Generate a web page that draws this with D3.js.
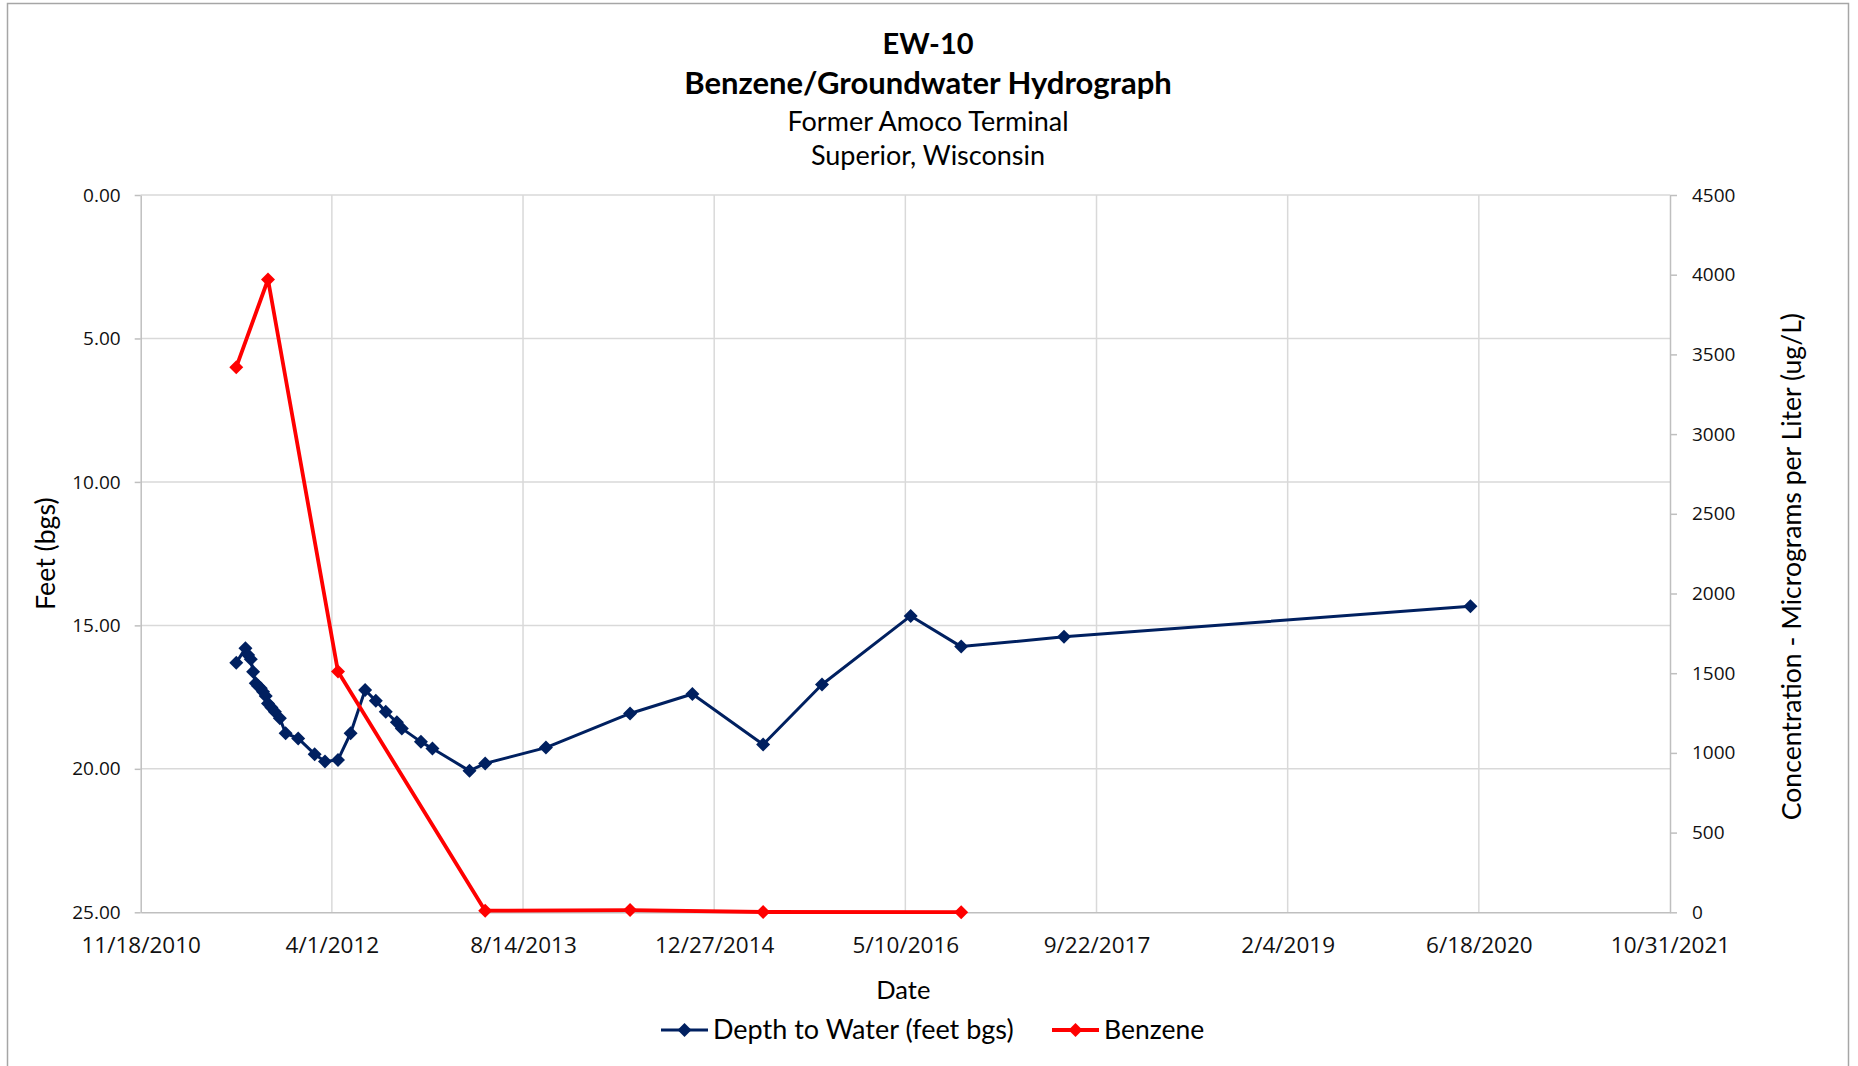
<!DOCTYPE html>
<html>
<head>
<meta charset="utf-8">
<script src="https://cdn.jsdelivr.net/npm/d3@7"></script>
<style>
  body { margin: 0; background: #fff; }
  svg { display: block; }
  .tick text { font-family: "Open Sans", sans-serif; fill: #111; }
</style>
</head>
<body>
<svg id="chart" width="1858" height="1066"></svg>
<script>
// Depth to water (feet below ground surface), EW-10
const depthDates = [
  "2011-07-26", "2011-08-19", "2011-08-26", "2011-09-02", "2011-09-08",
  "2011-09-15", "2011-09-21", "2011-09-28", "2011-10-04", "2011-10-11",
  "2011-10-17", "2011-10-26", "2011-11-04", "2011-11-17", "2011-12-02",
  "2012-01-04", "2012-02-16", "2012-03-14", "2012-04-17", "2012-05-20",
  "2012-06-27", "2012-07-25", "2012-08-20", "2012-09-18", "2012-10-01",
  "2012-11-20", "2012-12-20", "2013-03-27", "2013-05-07", "2013-10-13",
  "2014-05-21", "2014-10-31", "2015-05-04", "2015-10-05", "2016-05-24",
  "2016-10-03", "2017-06-29", "2020-05-27"
];
const depthFeet = [
  16.30, 15.80, 16.03, 16.18, 16.62,
  17.02, 17.11, 17.19, 17.31, 17.46,
  17.72, 17.86, 18.01, 18.24, 18.76,
  18.94, 19.49, 19.74, 19.69, 18.76,
  17.25, 17.63, 18.01, 18.38, 18.59,
  19.06, 19.29, 20.07, 19.81, 19.26,
  18.07, 17.39, 19.15, 17.06, 14.67,
  15.74, 15.40, 14.33
];

// Benzene concentration (ug/L)
const benzeneDates = [
  "2011-07-26", "2011-10-17", "2012-04-17", "2013-05-07",
  "2014-05-21", "2015-05-04", "2016-10-03"
];
const benzeneUgL = [3420, 3970, 1510, 10, 14, 2, 1];

// Axis ticks
const dateTicks = [
  "2010-11-18", "2012-04-01", "2013-08-14", "2014-12-27", "2016-05-10",
  "2017-09-22", "2019-02-04", "2020-06-18", "2021-10-31"
];
const feetTicks = [0, 5, 10, 15, 20, 25];
const concTicks = [0, 500, 1000, 1500, 2000, 2500, 3000, 3500, 4000, 4500];

const titleLines = ["EW-10", "Benzene/Groundwater Hydrograph", "Former Amoco Terminal", "Superior, Wisconsin"];

const parse = d3.utcParse("%Y-%m-%d");
const fmtDate = d3.utcFormat("%-m/%-d/%Y");

const depth = depthDates.map((d, i) => ({ date: parse(d), value: depthFeet[i] }));
const benzene = benzeneDates.map((d, i) => ({ date: parse(d), value: benzeneUgL[i] }));
const xTickDates = dateTicks.map(parse);

const plot = { left: 140.7, right: 1670, top: 195, bottom: 912.3 };

const x = d3.scaleUtc()
  .domain([xTickDates[0], xTickDates[xTickDates.length - 1]])
  .range([plot.left, plot.right]);
const yFeet = d3.scaleLinear().domain([0, 25]).range([plot.top, plot.bottom]);
const yConc = d3.scaleLinear().domain([0, 4500]).range([plot.bottom, plot.top]);

const svg = d3.select("#chart");
const calibriLike = "Lato, 'Open Sans', sans-serif";
const gridColor = "#d9d9d9";
const axisColor = "#bfbfbf";

// Outer chart border
svg.append("rect")
  .attr("x", 7.5).attr("y", 3.5)
  .attr("width", 1841).attr("height", 1100)
  .attr("fill", "none").attr("stroke", "#a6a6a6").attr("stroke-width", 1.5);

// Titles
const titleY = [54, 94, 131, 165];
const titleSize = [29, 31, 27, 27];
svg.append("g").selectAll("text").data(titleLines).join("text")
  .attr("x", 928).attr("y", (d, i) => titleY[i])
  .attr("text-anchor", "middle")
  .attr("font-family", calibriLike)
  .attr("font-size", (d, i) => titleSize[i])
  .attr("font-weight", (d, i) => i < 2 ? 700 : 400)
  .attr("fill", "#000")
  .text(d => d);

// Gridlines
const grid = svg.append("g");
grid.selectAll("line.h").data(feetTicks.slice(0, -1)).join("line")
  .attr("class", "h")
  .attr("x1", plot.left).attr("x2", plot.right)
  .attr("y1", d => yFeet(d)).attr("y2", d => yFeet(d))
  .attr("stroke", gridColor).attr("stroke-width", 1.5);
grid.selectAll("line.v").data(xTickDates.slice(1, -1)).join("line")
  .attr("class", "v")
  .attr("x1", d => x(d)).attr("x2", d => x(d))
  .attr("y1", plot.top).attr("y2", plot.bottom)
  .attr("stroke", gridColor).attr("stroke-width", 1.5);

// Left axis (feet bgs, reversed)
const leftAxis = svg.append("g")
  .attr("transform", `translate(${plot.left},0)`)
  .call(d3.axisLeft(yFeet).tickValues(feetTicks).tickFormat(d3.format(".2f"))
    .tickSizeInner(6).tickSizeOuter(0).tickPadding(14));
// Right axis (concentration)
const rightAxis = svg.append("g")
  .attr("transform", `translate(${plot.right},0)`)
  .call(d3.axisRight(yConc).tickValues(concTicks).tickFormat(d3.format("d"))
    .tickSizeInner(7).tickSizeOuter(0).tickPadding(15));
// Bottom axis (dates)
const bottomAxis = svg.append("g")
  .attr("transform", `translate(0,${plot.bottom})`)
  .call(d3.axisBottom(x).tickValues(xTickDates).tickFormat(fmtDate)
    .tickSizeInner(0).tickSizeOuter(0).tickPadding(25));

[leftAxis, rightAxis, bottomAxis].forEach(g => {
  g.select(".domain").attr("stroke", axisColor).attr("stroke-width", 1.5);
  g.selectAll(".tick line").attr("stroke", axisColor).attr("stroke-width", 1.5);
  g.selectAll(".tick text").attr("font-size", 19);
});
bottomAxis.selectAll(".tick text").attr("font-size", 22.5);

// Axis titles
svg.append("text")
  .attr("transform", `translate(55,${(plot.top + plot.bottom) / 2}) rotate(-90)`)
  .attr("text-anchor", "middle")
  .attr("font-family", calibriLike).attr("font-size", 26.7).attr("fill", "#000")
  .text("Feet (bgs)");
svg.append("text")
  .attr("transform", `translate(1801,${(plot.top + plot.bottom) / 2 + 13}) rotate(-90)`)
  .attr("text-anchor", "middle")
  .attr("font-family", calibriLike).attr("font-size", 26.6).attr("fill", "#000")
  .text("Concentration - Micrograms per Liter (ug/L)");
svg.append("text")
  .attr("x", (plot.left + plot.right) / 2 - 2).attr("y", 999)
  .attr("text-anchor", "middle")
  .attr("font-family", calibriLike).attr("font-size", 25.5).attr("fill", "#000")
  .text("Date");

// Series
const diamond = d3.symbol().type(d3.symbolSquare).size(98);

const depthLine = d3.line().x(d => x(d.date)).y(d => yFeet(d.value));
const benzLine = d3.line().x(d => x(d.date)).y(d => yConc(d.value));

const blue = "#002060";
const red = "#ff0000";

svg.append("path").datum(depth)
  .attr("d", depthLine).attr("fill", "none")
  .attr("stroke", blue).attr("stroke-width", 3).attr("stroke-linejoin", "round");
svg.append("g").selectAll("path").data(depth).join("path")
  .attr("d", diamond)
  .attr("transform", d => `translate(${x(d.date)},${yFeet(d.value)}) rotate(45)`)
  .attr("fill", blue);

svg.append("path").datum(benzene)
  .attr("d", benzLine).attr("fill", "none")
  .attr("stroke", red).attr("stroke-width", 3.8).attr("stroke-linejoin", "round");
svg.append("g").selectAll("path").data(benzene).join("path")
  .attr("d", diamond)
  .attr("transform", d => `translate(${x(d.date)},${yConc(d.value)}) rotate(45)`)
  .attr("fill", red);

// Legend
const legendItems = [
  { label: "Depth to Water (feet bgs)", color: blue, width: 3, x0: 661, size: 27 },
  { label: "Benzene", color: red, width: 3.8, x0: 1052, size: 26.5 }
];
const legendY = 1030;
const lg = svg.append("g").selectAll("g").data(legendItems).join("g");
lg.append("line")
  .attr("x1", d => d.x0).attr("x2", d => d.x0 + 47)
  .attr("y1", legendY).attr("y2", legendY)
  .attr("stroke", d => d.color).attr("stroke-width", d => d.width);
lg.append("path")
  .attr("d", diamond)
  .attr("transform", d => `translate(${d.x0 + 23.5},${legendY}) rotate(45)`)
  .attr("fill", d => d.color);
lg.append("text")
  .attr("x", d => d.x0 + 52).attr("y", legendY + 9)
  .attr("font-family", calibriLike).attr("font-size", d => d.size).attr("fill", "#000")
  .text(d => d.label);
</script>
</body>
</html>
